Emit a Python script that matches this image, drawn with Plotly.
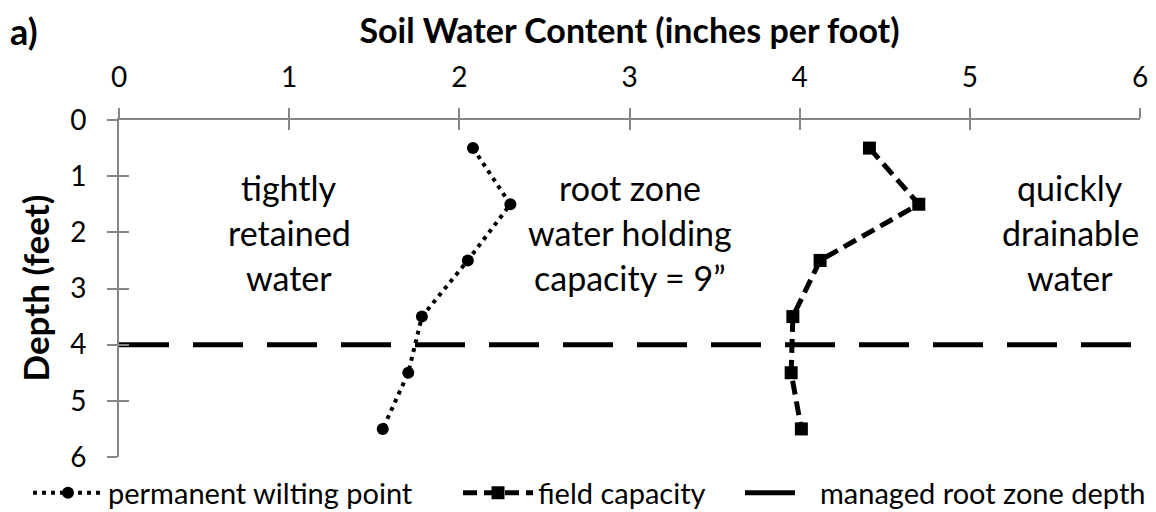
import plotly.graph_objects as go

# ---- data ----
depth = [0.5, 1.5, 2.5, 3.5, 4.5, 5.5]
wilting_point = [2.08, 2.30, 2.05, 1.78, 1.70, 1.55]
field_capacity = [4.41, 4.70, 4.12, 3.96, 3.95, 4.01]
root_zone_x = [0, 6]
root_zone_depth = [4, 4]

x_ticks = [0, 1, 2, 3, 4, 5, 6]
y_ticks = [0, 1, 2, 3, 4, 5, 6]

region_labels = [
    (1.0, ["tightly", "retained", "water"]),
    (3.0, ["root zone", "water holding", "capacity = 9\u201d"]),
    (5.59, ["quickly", "drainable", "water"]),
]
line_depths = [1.2, 2.0, 2.8]

FONT = "Lato"
GRAY = "#868686"

# page body has an 8px margin, so the figure is drawn 8px smaller
OFF = 8
W, H = 1156 - OFF, 512 - OFF
ML = 119 - OFF
MT = 120 - OFF
MR = 16
MB = 55
pw, ph = W - ML - MR, H - MT - MB

fig = go.Figure()

fig.add_trace(go.Scatter(
    x=wilting_point, y=depth, mode="lines+markers",
    name="permanent wilting point", legend="legend",
    line=dict(color="black", width=4, dash="4px,5px"),
    marker=dict(symbol="circle", size=12, color="black"),
))
fig.add_trace(go.Scatter(
    x=field_capacity, y=depth, mode="lines+markers",
    name="field capacity", legend="legend2",
    line=dict(color="black", width=5, dash="14px,7px"),
    marker=dict(symbol="square", size=13, color="black"),
))
fig.add_trace(go.Scatter(
    x=root_zone_x, y=root_zone_depth, mode="lines",
    name="managed root zone depth", legend="legend3",
    line=dict(color="black", width=5, dash="50px,24px"),
))

annotations = []
for xc, lines in region_labels:
    for yl, txt in zip(line_depths, lines):
        annotations.append(dict(
            x=xc, y=yl, xref="x", yref="y", text=txt, showarrow=False,
            xanchor="center", yanchor="middle",
            font=dict(family=FONT, size=34, color="black"),
        ))

annotations.append(dict(
    x=(34 - OFF - ML) / pw, y=0.5, xref="paper", yref="paper",
    text="<b>Depth (feet)</b>",
    textangle=-90, showarrow=False, xanchor="center", yanchor="middle",
    font=dict(family=FONT, size=35, color="black"),
))
annotations.append(dict(
    x=(8 - OFF - ML) / pw, y=(H - MB - (31 - OFF)) / ph,
    xref="paper", yref="paper", text="<b>a)</b>",
    showarrow=False, xanchor="left", yanchor="middle",
    font=dict(family=FONT, size=36, color="black"),
))


def legend_at(left_px):
    return dict(
        orientation="h",
        x=(left_px - OFF - ML) / pw, xref="paper", xanchor="left",
        y=-((493 - OFF) - (H - MB)) / ph, yref="paper", yanchor="middle",
        font=dict(family=FONT, size=29, color="black"),
        bgcolor="rgba(0,0,0,0)", itemwidth=70,
    )


fig.update_layout(
    width=W, height=H,
    margin=dict(l=ML, r=MR, t=MT, b=MB, autoexpand=False),
    paper_bgcolor="white", plot_bgcolor="white",
    font=dict(family=FONT, size=28, color="black"),
    title=dict(
        text="<b>Soil Water Content (inches per foot)</b>",
        x=0.5, xref="paper", y=1 - (31 - OFF) / H, yref="container",
        xanchor="center", yanchor="middle",
        font=dict(family=FONT, size=34, color="black"),
    ),
    xaxis=dict(
        range=[0, 6], side="top", tickvals=x_ticks, ticktext=[str(v) for v in x_ticks],
        showgrid=False, zeroline=False, showline=True, linecolor=GRAY, linewidth=2,
        ticks="outside", ticklen=10, tickwidth=2, tickcolor=GRAY,
        ticklabelstandoff=10, tickfont=dict(family=FONT, size=28, color="black"),
        anchor="y",
    ),
    xaxis2=dict(
        range=[0, 6], side="top", overlaying="x", anchor="y", tickvals=x_ticks,
        showgrid=False, zeroline=False, showline=False, showticklabels=False,
        ticks="inside", ticklen=10, tickwidth=2, tickcolor=GRAY,
    ),
    yaxis=dict(
        range=[6, 0], tickvals=y_ticks, ticktext=[str(v) for v in y_ticks],
        showgrid=False, zeroline=False, showline=True, linecolor=GRAY, linewidth=2,
        ticks="outside", ticklen=10, tickwidth=2, tickcolor=GRAY,
        ticklabelstandoff=15, tickfont=dict(family=FONT, size=28, color="black"),
        anchor="x",
    ),
    yaxis2=dict(
        range=[6, 0], overlaying="y", side="left", anchor="x", tickvals=y_ticks,
        showgrid=False, zeroline=False, showline=False, showticklabels=False,
        ticks="inside", ticklen=10, tickwidth=2, tickcolor=GRAY,
    ),
    legend=legend_at(28),
    legend2=legend_at(458),
    legend3=legend_at(740),
    annotations=annotations,
    showlegend=True,
)

# invisible trace so the overlay tick axes render
fig.add_trace(go.Scatter(x=[None], y=[None], xaxis="x2", yaxis="y2",
                         showlegend=False, hoverinfo="skip"))

fig.write_html("out.html")
